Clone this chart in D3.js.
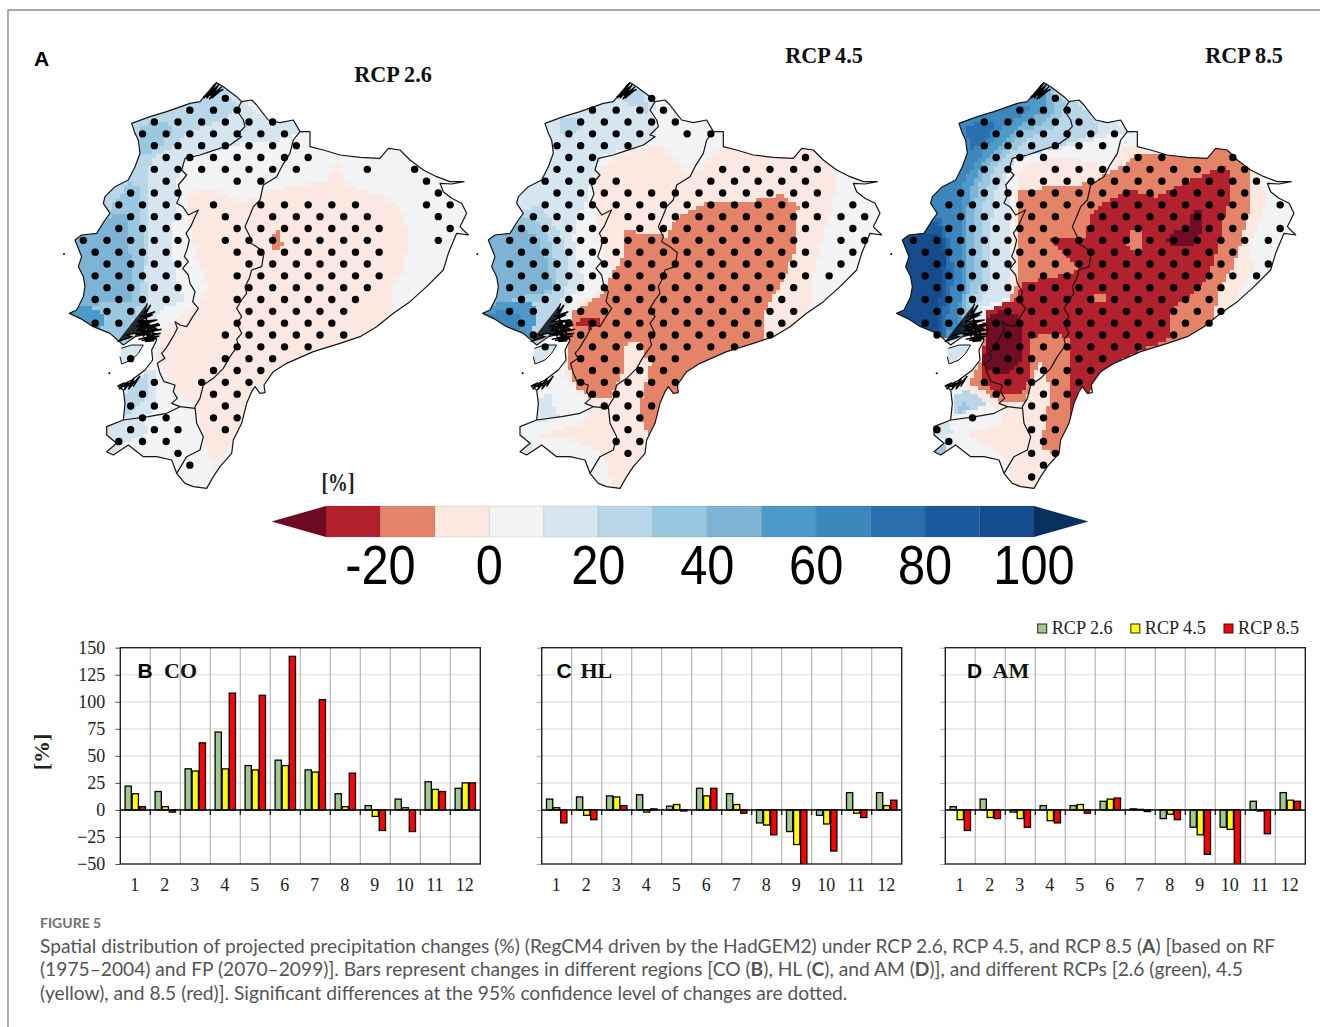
<!DOCTYPE html>
<html>
<head>
<meta charset="utf-8">
<script src="https://cdn.jsdelivr.net/npm/d3@7"></script>
<style>
  html, body { margin: 0; padding: 0; background: #fff; }
  svg { display: block; }
  .serif { font-family: "Liberation Serif", serif; }
  .sans { font-family: "Liberation Sans", sans-serif; }
  .caption { font-family: Lato, "Open Sans", sans-serif; fill: #555; }
</style>
</head>
<body>
<svg id="fig" width="1320" height="1027"></svg>
<script>
// ---- bar chart values (%)
const months = ['1','2','3','4','5','6','7','8','9','10','11','12'];
const rcpNames = ['RCP 2.6','RCP 4.5','RCP 8.5'];
const yTicks = [-50,-25,0,25,50,75,100,125,150];

const coRcp26 = [22,17,38,72,41,46,37,15,4,10,26,20];
const coRcp45 = [15,3,36,38,37,41,35,3,-6,2,19,25];
const coRcp85 = [3,-2,62,108,106,142,102,34,-19,-20,17,25];

const hlRcp26 = [10,12,13,14,3.5,20,15,-12,-20,-5,16,16];
const hlRcp45 = [2,-5,12,-2,5,13,5,-14,-32,-13,-3,4];
const hlRcp85 = [-12,-9,4,1,-1,20,-3,-23,-51,-38,-7,9];

const amRcp26 = [3,10,-2,4,4,8,1,-8,-16,-16,8,16];
const amRcp45 = [-9,-7,-8,-10,5,10,0.5,-4,-23,-18,-1,9];
const amRcp85 = [-19,-8,-16,-12,-3,11,-1.5,-9,-41,-51,-22,8];

// ---- colour bar
const cbEdges = [-30,-20,-10,0,10,20,30,40,50,60,70,80,90,100];
const cbColors = ['#6f0a23','#b2202e','#e58368','#fbe8e0','#f2f3f5','#d6e6f1','#bad6e9','#9ac8e0','#7db3d5','#4d9ac8','#3c87bd','#2a70ae','#1c5a9f','#154c8c','#0a3060'];
const cbTicks = [-20,0,20,40,60,80,100];

// ---- map geometry (map units, 3 units = 1 px of the first panel)
const countryOutline = [[470,38],[490,50],[510,65],[530,80],[545,95],[575,90],[590,105],[605,125],[625,150],[660,158],[700,150],[720,185],[750,185],[750,230],[790,240],[840,255],[900,262],[960,265],[985,235],[1020,240],[1050,270],[1090,300],[1130,320],[1170,335],[1212,335],[1175,342],[1140,340],[1150,365],[1175,385],[1205,400],[1220,430],[1200,470],[1225,495],[1190,490],[1165,550],[1150,600],[1100,650],[1050,695],[1000,730],[950,770],[900,800],[840,820],[760,845],[680,880],[640,905],[612,945],[615,968],[600,970],[585,950],[575,965],[560,1000],[545,1060],[520,1110],[515,1150],[480,1190],[460,1220],[440,1255],[400,1250],[375,1240],[350,1210],[335,1170],[290,1160],[250,1160],[205,1125],[160,1155],[140,1145],[170,1120],[140,1095],[140,1070],[190,1050],[195,1000],[190,960],[175,950],[215,930],[255,900],[278,870],[275,840],[290,810],[270,790],[225,800],[190,825],[150,790],[100,770],[60,745],[28,730],[50,720],[70,680],[75,650],[70,620],[55,590],[65,560],[45,510],[65,495],[110,490],[135,450],[150,430],[130,400],[135,380],[165,350],[205,330],[225,290],[240,250],[235,210],[225,190],[215,160],[270,140],[320,125],[390,100],[420,95],[445,65],[470,38]];
const coastHighlandLine = [[545,95],[530,120],[550,150],[555,170],[530,195],[545,200],[510,225],[450,245],[420,255],[375,265],[365,300],[380,315],[355,345],[362,372],[350,400],[368,410],[385,435],[415,420],[405,440],[392,470],[378,490],[388,510],[382,535],[373,560],[385,575],[368,595],[385,615],[390,640],[405,665],[398,695],[415,715],[405,730],[395,745],[380,770],[360,765],[345,755],[352,775],[342,795],[330,815],[318,835],[305,850],[315,865],[292,880],[300,910],[312,935],[345,945],[340,965],[352,985],[335,1000],[360,1010],[320,1030],[265,1040],[190,1050]];
const coastSouthLink = [[360,1010],[405,1015]];
const highlandAmazonLine = [[720,185],[700,210],[690,250],[665,290],[650,320],[610,345],[600,390],[580,410],[570,435],[555,470],[570,500],[565,515],[590,530],[612,548],[605,590],[575,600],[568,625],[555,650],[560,670],[545,690],[530,715],[545,740],[530,760],[545,790],[530,808],[535,825],[510,860],[490,895],[460,925],[430,945],[420,985],[405,1010],[410,1060],[430,1100],[420,1140],[380,1160],[350,1210]];
const punaIsland = [[183,835],[215,825],[250,825],[235,850],[215,870],[185,882],[180,860]];
const mangroveTop = [[432,85],[462,45],[470,38],[440,85],[478,42],[448,88],[485,50],[452,78],[490,58],[445,72],[470,50],[438,80],[465,62],[455,85],[482,62],[430,80]];
const mangroveGulf = [[262,700],[252,730],[272,705],[250,745],[285,725],[240,740],[278,735],[232,755],[292,750],[228,770],[300,765],[230,782],[305,778],[226,795],[302,790],[235,808],[298,798],[245,812],[290,805],[255,815],[280,812],[236,775],[296,760],[240,792],[288,775],[248,760],[284,795],[258,745],[270,810],[262,755],[250,800],[276,765],[256,785],[268,790],[222,790],[200,795],[215,800],[180,812],[210,803],[172,815]];
const mangroveJambeli = [[172,948],[190,940],[178,958],[205,935],[192,960],[222,925],[205,958],[240,918],[220,950],[232,930],[186,950],[212,945]];
const islets = [[12,552],[148,910]];

// ---- colour field bands, painted in order over the 0-10 % base and clipped to the country.
// each is [class value %, outline]
const rcp26Bands = [
  [-5,[[830,265],[850,330],[890,360],[960,375],[1020,410],[1045,500],[1030,600],[1000,650],[995,730],[950,780],[840,830],[680,890],[612,950],[575,975],[545,1070],[520,1120],[460,1200],[440,1130],[410,1010],[380,990],[340,950],[310,900],[290,860],[300,790],[340,750],[420,700],[445,650],[410,560],[390,480],[385,370],[450,355],[530,395],[600,385],[610,365],[700,350],[800,330]]],
  [15,[[470,20],[560,100],[620,150],[700,140],[730,185],[650,215],[560,215],[480,240],[400,255],[370,290],[350,330],[345,440],[330,520],[350,620],[370,690],[300,720],[280,760],[250,820],[180,850],[0,740],[0,400],[100,200],[200,100]]],
  [15,[[190,930],[290,890],[290,960],[280,1030],[190,1060]]],
  [15,[[130,1060],[230,1040],[270,1090],[200,1120],[130,1130]]],
  [15,[[140,1125],[180,1115],[170,1160],[135,1155]]],
  [25,[[470,25],[530,110],[500,140],[440,170],[380,190],[340,230],[290,260],[260,300],[260,420],[265,540],[255,620],[265,690],[235,790],[180,840],[0,740],[0,400],[100,230],[200,110]]],
  [25,[[200,950],[270,900],[265,980],[210,1030],[190,1030]]],
  [35,[[240,170],[300,150],[340,170],[310,220],[270,250],[235,250]]],
  [35,[[0,440],[140,430],[205,340],[240,350],[245,450],[250,600],[240,700],[180,840],[0,750]]],
  [45,[[0,450],[140,440],[205,430],[210,560],[210,690],[130,700],[70,710],[0,720]]],
  [55,[[0,720],[80,710],[130,730],[125,780],[90,780],[0,750]]],
  [-15,[[650,478],[665,510],[677,515],[660,540],[637,540],[630,510],[640,490]]]
];
const rcp45Bands = [
  [15,[[450,25],[500,70],[525,100],[515,160],[535,190],[500,225],[440,240],[370,255],[350,290],[330,350],[320,400],[295,440],[280,500],[290,580],[320,640],[270,680],[255,720],[220,790],[160,840],[0,740],[0,400],[120,230],[200,100]]],
  [15,[[165,990],[215,970],[220,1010],[240,1040],[170,1060]]],
  [15,[[120,1110],[160,1110],[160,1160],[120,1160]]],
  [25,[[0,430],[120,430],[180,400],[245,500],[265,560],[265,620],[250,680],[200,800],[160,840],[0,740]]],
  [25,[[240,150],[300,140],[300,180],[265,205],[245,185]]],
  [25,[[445,40],[490,70],[505,130],[470,110],[430,95]]],
  [35,[[0,440],[115,440],[165,440],[205,500],[230,600],[225,660],[170,700],[60,700],[0,720]]],
  [45,[[0,500],[105,470],[170,500],[205,590],[215,660],[130,680],[55,700],[0,720]]],
  [55,[[0,735],[60,690],[120,690],[170,710],[160,790],[150,830],[60,780]]],
  [65,[[0,735],[70,720],[125,740],[120,780],[60,770]]],
  [-5,[[540,225],[590,270],[620,310],[660,300],[700,255],[740,225],[860,250],[960,225],[1040,260],[1075,310],[1060,400],[1030,500],[1000,620],[985,750],[850,830],[660,890],[590,970],[550,1060],[515,1100],[490,1170],[430,1270],[395,1260],[385,1180],[350,1140],[250,1100],[170,1100],[300,1060],[340,1010],[290,960],[250,910],[250,830],[280,760],[300,700],[360,660],[400,600],[350,510],[340,400],[355,300],[430,250]]],
  [-15,[[430,480],[560,500],[590,440],[690,395],[830,390],[900,375],[955,410],[945,540],[900,650],[860,710],[845,820],[660,890],[610,950],[600,990],[560,1050],[510,1100],[475,1035],[490,970],[510,880],[475,810],[440,810],[430,910],[390,985],[340,985],[290,950],[260,880],[265,830],[275,730],[330,695],[370,670],[395,610],[425,580]]],
  [-25,[[300,745],[355,745],[360,765],[330,775],[290,768]]]
];
const rcp85Bands = [
  [15,[[450,20],[590,90],[660,160],[700,165],[730,190],[660,195],[555,225],[440,250],[380,260],[360,300],[345,350],[365,420],[355,500],[370,620],[360,680],[280,710],[260,780],[180,840],[0,800],[0,0]]],
  [25,[[450,20],[600,130],[630,185],[480,240],[370,270],[320,350],[305,450],[305,650],[250,720],[250,800],[0,800],[0,0]]],
  [35,[[460,20],[530,110],[500,170],[400,215],[310,300],[290,360],[270,450],[270,650],[235,720],[230,800],[0,800],[0,0]]],
  [45,[[480,60],[500,110],[470,155],[390,190],[300,280],[265,340],[250,440],[250,620],[225,700],[215,800],[0,800],[0,0]]],
  [55,[[470,70],[470,120],[400,160],[340,215],[280,280],[240,360],[230,450],[230,600],[220,700],[205,800],[0,800],[0,0]]],
  [65,[[420,110],[400,135],[330,180],[270,260],[210,350],[215,450],[215,600],[205,780],[0,780],[0,0],[200,60]]],
  [75,[[0,440],[150,440],[180,520],[190,620],[165,800],[0,800]]],
  [75,[[230,170],[290,150],[320,170],[280,220],[240,240]]],
  [85,[[0,470],[140,455],[170,520],[175,620],[150,800],[0,790]]],
  [95,[[0,500],[100,490],[150,500],[165,560],[160,620],[150,680],[140,810],[0,780]]],
  [25,[[190,980],[225,960],[300,990],[270,1010],[200,1040]]],
  [35,[[200,1010],[225,1000],[245,1015],[210,1030]]],
  [35,[[135,1130],[175,1115],[165,1160],[135,1160]]],
  [15,[[120,1060],[170,1050],[190,1090],[130,1110]]],
  [-5,[[380,300],[450,270],[560,265],[650,290],[700,230],[760,225],[1000,225],[1100,300],[1130,380],[1120,430],[1080,520],[1090,600],[1060,650],[1000,730],[950,780],[660,890],[610,960],[560,1050],[510,1160],[440,1270],[380,1260],[350,1170],[250,1100],[230,1090],[330,1060],[340,1030],[220,950],[290,790],[360,690],[380,330]]],
  [-15,[[385,360],[600,340],[690,290],[740,255],[880,255],[990,230],[1060,260],[1085,320],[1075,430],[1030,600],[990,650],[970,750],[950,780],[850,820],[660,890],[600,970],[550,1040],[545,1090],[510,1160],[450,1130],[470,1050],[480,950],[450,880],[430,920],[410,990],[340,1000],[280,960],[240,940],[270,870],[280,760],[360,690],[385,620],[385,500]]],
  [-25,[[600,430],[640,400],[720,360],[800,380],[880,340],[1000,290],[1015,300],[1020,380],[990,500],[960,620],[900,680],[845,720],[845,800],[660,890],[610,950],[600,975],[570,965],[550,1040],[535,1030],[545,890],[540,800],[460,790],[415,810],[415,930],[400,970],[320,970],[270,930],[280,880],[285,760],[290,720],[370,690],[400,640],[490,620],[550,610],[560,590],[480,510],[540,505],[590,500]]],
  [-15,[[725,475],[750,480],[750,550],[720,540],[710,515]]],
  [-15,[[605,680],[640,670],[650,690],[620,690]]],
  [-35,[[910,415],[935,420],[935,480],[915,525],[870,530],[820,515],[860,480],[890,470]]],
  [-35,[[340,720],[380,730],[400,790],[395,870],[360,910],[310,905],[275,885],[290,800],[280,750]]]
];

// ---- significance dots: grid columns per grid row
const rcp26Dots = [[12],[9,11,13],[6,8,10,12,14,16],[5,7,9,11,13,15,17],[6,8,10,12,14,16,18],[7,9,11,13,15,17,19],[6,8,10,12,14,16,18,24,28],[7,13,15,29],[4,6,8,30],[3,5,7,11,15,17,19,21,23,29,31],[4,6,8,12,16,18,20,22,24,30],[3,5,7,13,15,17,19,21,23,25,31],[0,2,4,6,8,12,14,16,18,20,22,24,30],[1,3,5,7,13,15,17,19,21,23,25],[2,4,6,8,14,16,18,20,22,24],[1,3,5,7,13,15,17,19,21,23,25],[2,4,6,8,14,16,18,20,22,24],[1,3,5,7,13,15,17,19,21,23],[2,4,14,16,18,20,22],[1,3,5,13,15,17,19,21],[12,14,16,18,20,22],[13,15,17,19],[4,12,14,16],[11,13,15],[6,10,12,14],[5,11,13],[4,6,12],[5,7,11,13],[4,6,8,12],[3,5,7],[8],[9]];
const rcp45Dots = [[14],[9,11,13,15],[8,10,12,14,16],[7,9,11,13,17,19],[6,8,10,12],[7,9,27],[6,8,20,22,24,26,28],[5,7,9,11,19,21,23,25,27],[6,8,10,12,14,16,18,20,22,24,26,28],[5,7,9,11,13,15,17,19,21,23,25,27,31],[4,6,8,12,14,16,18,20,22,24,26,28,30,32],[3,5,7,9,13,15,17,19,21,23,25,27,31],[2,4,6,8,10,12,14,16,18,20,22,24,26,30,32],[3,5,7,9,11,13,15,17,19,21,23,25,27,31],[2,4,6,8,10,12,14,16,18,20,22,24,26,30],[3,5,7,9,11,13,15,17,19,21,23,25,27,29],[2,4,6,8,10,12,14,16,18,20,22,24,26],[3,5,7,11,13,15,17,19,21,23,25],[2,4,8,10,12,14,16,18,20,22,24,26],[3,7,9,11,13,15,17,19,21,23,25],[4,8,10,12,14,16,18,20,22,24],[5,9,11,13,15,17,19,21],[8,10,14,16],[9,11,13,15],[8,10,12,14,16],[9,11,13],[10,12,14],[11,13],[12],[11,13],[12]];
const rcp85Dots = [[12],[9,11,13],[6,8,10,12,14],[7,9,11,13,15,17],[6,8,10,12,14,16],[7,9,11,19,21,27],[6,8,12,14,16,18,20,22,24,26,28],[7,11,13,15,17,19,21,23,25,27,29],[4,6,8,10,12,14,16,18,20,22,24,26,28],[3,5,7,9,11,13,15,17,19,21,23,25,27,31],[4,6,8,10,12,16,18,20,22,24,26,28],[3,5,7,9,11,15,17,19,21,23,25,27,31],[0,2,4,6,8,10,12,14,16,18,20,22,24,26,28,30],[1,3,5,7,9,11,13,15,17,19,21,23,25,27],[2,4,6,8,10,12,14,16,18,20,22,24,26,30],[1,3,5,7,11,13,15,17,19,21,23,25,27,29],[2,4,6,8,10,12,14,16,18,20,22,24,26],[1,3,5,9,11,13,15,17,19,21,23,25],[2,4,8,10,12,14,16,18,20,22,24,26],[1,3,7,9,11,13,15,17,19,21,23,25],[2,8,10,12,14,16,18,20,22],[7,9,11,13,15,17,19],[8,10,14,16],[7,9,11,13,15],[6,8,10,12,14],[7,11,13],[10,12],[5,11],[2,10,12],[3,11],[10,12],[11],[10]];

// ---- caption
const captionLines = [
  'Spatial distribution of projected precipitation changes (%) (RegCM4 driven by the HadGEM2) under RCP 2.6, RCP 4.5, and RCP 8.5 (A) [based on RF',
  '(1975\u20132004) and FP (2070\u20132099)]. Bars represent changes in different regions [CO (B), HL (C), and AM (D)], and different RCPs [2.6 (green), 4.5',
  '(yellow), and 8.5 (red)]. Significant differences at the 95% confidence level of changes are dotted.'
];

const svg = d3.select('#fig');
const barColors = d3.scaleOrdinal().domain(rcpNames).range(['#a0c88f','#ffff00','#ff0000']);
const fieldColor = d3.scaleThreshold().domain(cbEdges).range(cbColors);

const softEdge = svg.append('defs').append('filter').attr('id','soft');
softEdge.append('feGaussianBlur').attr('stdDeviation',0.45);

// page frame
svg.append('path').attr('d', d3.line()([[8,1027],[8,10],[1320,10]]))
  .attr('fill','none').attr('stroke','#8a8a8a').attr('stroke-width',1.4);

// the field is a model grid, so band edges get snapped onto its cells
const cellSize = 12;
const toCells = pts => {
  const out = [];
  pts.forEach((a, i) => {
    const b = pts[(i + 1) % pts.length];
    const n = Math.ceil(Math.hypot(b[0] - a[0], b[1] - a[1]) / 4);
    d3.range(n).forEach(k => {
      const px = Math.round((a[0] + (b[0] - a[0]) * k / n) / cellSize) * cellSize;
      const py = Math.round((a[1] + (b[1] - a[1]) * k / n) / cellSize) * cellSize;
      const last = out[out.length - 1];
      if (!last || last[0] !== px || last[1] !== py) out.push([px, py]);
    });
  });
  return out;
};

// ---- maps
const mapPanels = [
  { id:'m26', title:'RCP 2.6', tx:393, ty:82, left:60, shift:0, dotX:70, bands:rcp26Bands, dots:rcp26Dots },
  { id:'m45', title:'RCP 4.5', tx:824, ty:63, left:480, shift:-20, dotX:18, bands:rcp45Bands, dots:rcp45Dots },
  { id:'m85', title:'RCP 8.5', tx:1244, ty:63, left:890, shift:-8, dotX:70, bands:rcp85Bands, dots:rcp85Dots }
];
const yMap = d3.scaleLinear().domain([0,1290]).range([70,500]);
const colStep = 35.5, rowStart = 85;

mapPanels.forEach(p => {
  const xMap = d3.scaleLinear().domain([0,1260]).range([p.left, p.left + 420]);
  const line = d3.line().x(d => xMap(d[0])).y(d => yMap(d[1]));
  const stepLine = d3.line().x(d => xMap(d[0])).y(d => yMap(d[1])).curve(d3.curveStepAfter);
  const shifted = pts => pts.map(d => [d[0] + p.shift, d[1]]);
  const g = svg.append('g').attr('class', p.id).attr('filter','url(#soft)');

  svg.append('clipPath').attr('id', 'clip-' + p.id).append('path')
    .attr('d', line(shifted(countryOutline)));

  g.append('path').attr('d', line(shifted(countryOutline))).attr('fill', fieldColor(5));
  g.append('g').attr('clip-path', `url(#clip-${p.id})`)
    .selectAll('path').data(p.bands).join('path')
    .attr('d', d => stepLine(toCells(d[1])) + 'Z')
    .attr('fill', d => fieldColor(d[0]));
  g.append('path').attr('d', line(shifted(punaIsland))).attr('fill', fieldColor(15))
    .attr('stroke','#111').attr('stroke-width',1);

  [countryOutline, coastHighlandLine, coastSouthLink, highlandAmazonLine].forEach(pts => {
    g.append('path').attr('d', line(shifted(pts))).attr('fill','none')
      .attr('stroke','#161616').attr('stroke-width',1.2).attr('stroke-linejoin','round');
  });
  // mangrove creeks are too fine to trace, they read as dark scribbled blobs
  [mangroveTop, mangroveGulf, mangroveJambeli].forEach(pts => {
    g.append('path').attr('d', line(shifted(pts))).attr('fill','#000').attr('fill-opacity',0.8)
      .attr('stroke','#000').attr('stroke-width',1.3);
  });
  g.selectAll('circle.islet').data(shifted(islets)).join('circle').attr('class','islet')
    .attr('cx', d => xMap(d[0])).attr('cy', d => yMap(d[1])).attr('r',1).attr('fill','#000');

  const dotData = p.dots.flatMap((cols, r) => cols.map(c => ({ c, r })));
  g.selectAll('circle.dot').data(dotData).join('circle').attr('class','dot')
    .attr('cx', d => xMap(p.dotX + colStep * d.c))
    .attr('cy', d => yMap(rowStart + colStep * d.r))
    .attr('r', 3.7).attr('fill','#000');

  svg.append('text').attr('class','serif').attr('x',p.tx).attr('y',p.ty)
    .attr('text-anchor','middle').attr('font-weight','bold').attr('font-size',22.2)
    .attr('fill','#111').text(p.title);
});

svg.append('text').attr('class','sans').attr('x',34).attr('y',66)
  .attr('font-weight','bold').attr('font-size',21).text('A');

// ---- colour bar
const cbX = d3.scaleLinear().domain([-30,100]).range([326,1034]);
const cbTop = 506, cbBottom = 537, cbMid = (cbTop + cbBottom) / 2;
const cbG = svg.append('g');
cbG.selectAll('rect').data(d3.pairs(cbEdges)).join('rect')
  .attr('x', d => cbX(d[0])).attr('width', d => cbX(d[1]) - cbX(d[0]))
  .attr('y', cbTop).attr('height', cbBottom - cbTop)
  .attr('fill', d => fieldColor(d[0] + 1))
  .attr('stroke','rgba(60,60,60,.12)').attr('stroke-width',1);
cbG.append('path').attr('fill', cbColors[0])
  .attr('d', d3.line()([[cbX(-30),cbTop],[cbX(-40),cbMid],[cbX(-30),cbBottom]]));
cbG.append('path').attr('fill', cbColors[cbColors.length - 1])
  .attr('d', d3.line()([[cbX(100),cbTop],[cbX(110),cbMid],[cbX(100),cbBottom]]));
cbG.selectAll('text').data(cbTicks).join('text').attr('class','sans')
  .attr('transform', d => `translate(${cbX(d)},584) scale(.87,1)`)
  .attr('text-anchor','middle').attr('font-size',56).attr('fill','#000').text(d => d);
svg.append('text').attr('class','serif').attr('transform','translate(338,491) scale(.9,1.1)')
  .attr('text-anchor','middle').attr('font-weight','bold').attr('font-size',22).attr('fill','#222').text('[%]');

// ---- bar panels
const barPanels = [
  { letter:'B', name:'CO', left:120.3, lx:137.5, nx:164, values:[coRcp26,coRcp45,coRcp85], labels:true },
  { letter:'C', name:'HL', left:541.7, lx:556.5, nx:580.5, values:[hlRcp26,hlRcp45,hlRcp85], labels:false },
  { letter:'D', name:'AM', left:945.3, lx:967, nx:992.5, values:[amRcp26,amRcp45,amRcp85], labels:false }
];
const plotW = 360;
const yBar = d3.scaleLinear().domain([-50,150]).range([864,647.7]);

barPanels.forEach((p, pi) => {
  const x0 = d3.scaleBand().domain(months).range([p.left, p.left + plotW]);
  const x1 = d3.scaleBand().domain(rcpNames).range([x0.bandwidth() * 0.16, x0.bandwidth() * 0.84]).paddingInner(0.12);
  const g = svg.append('g');

  svg.append('clipPath').attr('id','plot-' + pi).append('rect')
    .attr('x',p.left).attr('y',yBar(150)).attr('width',plotW).attr('height',yBar(-50) - yBar(150));

  // grid
  g.append('g').selectAll('line').data(yTicks.slice(1,-1)).join('line')
    .attr('x1',p.left).attr('x2',p.left + plotW).attr('y1',d => yBar(d)).attr('y2',d => yBar(d))
    .attr('stroke','#dedede').attr('stroke-width',1.2);
  g.append('g').selectAll('line').data(months.slice(1)).join('line')
    .attr('x1',d => x0(d)).attr('x2',d => x0(d)).attr('y1',yBar(150)).attr('y2',yBar(-50))
    .attr('stroke','#bcbcbc').attr('stroke-width',1.3);

  // y axis, tick labels only on the first panel
  const yAxis = g.append('g').attr('transform',`translate(${p.left},0)`)
    .call(d3.axisLeft(yBar).tickValues(yTicks).tickSize(5).tickSizeOuter(0).tickFormat(p.labels ? d3.format('d') : ''));
  yAxis.select('.domain').remove();
  yAxis.selectAll('line').attr('stroke', p.labels ? '#555' : '#aaa');
  yAxis.selectAll('text').attr('class','serif').attr('font-size',18).attr('fill','#222').attr('dx',-7);

  // bars
  const rows = months.map((m, i) => ({ m, i }));
  g.append('g').attr('clip-path',`url(#plot-${pi})`)
    .selectAll('g').data(rows).join('g')
    .attr('transform', d => `translate(${x0(d.m)},0)`)
    .selectAll('rect').data(d => rcpNames.map((r, s) => ({ r, v: p.values[s][d.i] }))).join('rect')
    .attr('x', d => x1(d.r)).attr('width', x1.bandwidth())
    .attr('y', d => yBar(Math.max(0, d.v))).attr('height', d => Math.abs(yBar(d.v) - yBar(0)))
    .attr('fill', d => barColors(d.r)).attr('stroke','#000').attr('stroke-width',1.3);

  // zero line + month ticks on it
  g.append('line').attr('x1',p.left).attr('x2',p.left + plotW).attr('y1',yBar(0)).attr('y2',yBar(0))
    .attr('stroke','#000').attr('stroke-width',1.5);
  g.append('g').selectAll('line').data(months.slice(1)).join('line')
    .attr('x1',d => x0(d)).attr('x2',d => x0(d)).attr('y1',yBar(0) - 1).attr('y2',yBar(0) + 5)
    .attr('stroke','#111').attr('stroke-width',1.2);
  g.append('rect').attr('x',p.left).attr('y',yBar(150)).attr('width',plotW).attr('height',yBar(-50) - yBar(150))
    .attr('fill','none').attr('stroke','#222').attr('stroke-width',1.4);

  // month labels
  g.append('g').selectAll('text').data(months).join('text').attr('class','serif')
    .attr('x',d => x0(d) + x0.bandwidth() / 2 - 0.5).attr('y',891)
    .attr('text-anchor','middle').attr('font-size',18).attr('fill','#222').text(d => d);

  g.append('text').attr('class','sans').attr('x',p.lx).attr('y',678)
    .attr('font-weight','bold').attr('font-size',21).attr('fill','#000').text(p.letter);
  g.append('text').attr('class','serif').attr('x',p.nx).attr('y',678)
    .attr('font-weight','bold').attr('font-size',22).attr('fill','#111').text(p.name);
});

svg.append('text').attr('class','serif').attr('transform','translate(49,752) rotate(-90)')
  .attr('text-anchor','middle').attr('font-weight','bold').attr('font-size',22).attr('fill','#222').text('[%]');

// ---- legend
const legendX = d3.scalePoint().domain(rcpNames).range([1037.7,1224]);
const legend = svg.append('g').selectAll('g').data(rcpNames).join('g')
  .attr('transform', d => `translate(${legendX(d)},624)`);
legend.append('rect').attr('width',9).attr('height',9)
  .attr('fill', d => barColors(d)).attr('stroke','#222').attr('stroke-width',1);
legend.append('text').attr('class','serif').attr('x',14).attr('y',10)
  .attr('font-size',18.2).attr('fill','#222').text(d => d);

// ---- caption
svg.append('text').attr('class','caption').attr('x',40).attr('y',928)
  .attr('font-size',14).attr('font-weight',700).style('fill','#707070').text('FIGURE 5');
const capY = d3.scalePoint().domain(captionLines).range([953,999.5]);
const capText = svg.selectAll('text.capline').data(captionLines).join('text').attr('class','caption capline')
  .attr('x',40).attr('y',d => capY(d)).attr('font-size',19.2);
capText.each(function(line) {
  const t = d3.select(this);
  line.split(/(\([ABCD]\))/).forEach(part => {
    if (/^\([ABCD]\)$/.test(part)) {
      t.append('tspan').text('(');
      t.append('tspan').attr('font-weight',700).text(part.slice(1,-1));
      t.append('tspan').text(')');
    } else {
      t.append('tspan').text(part);
    }
  });
});
</script>
</body>
</html>
